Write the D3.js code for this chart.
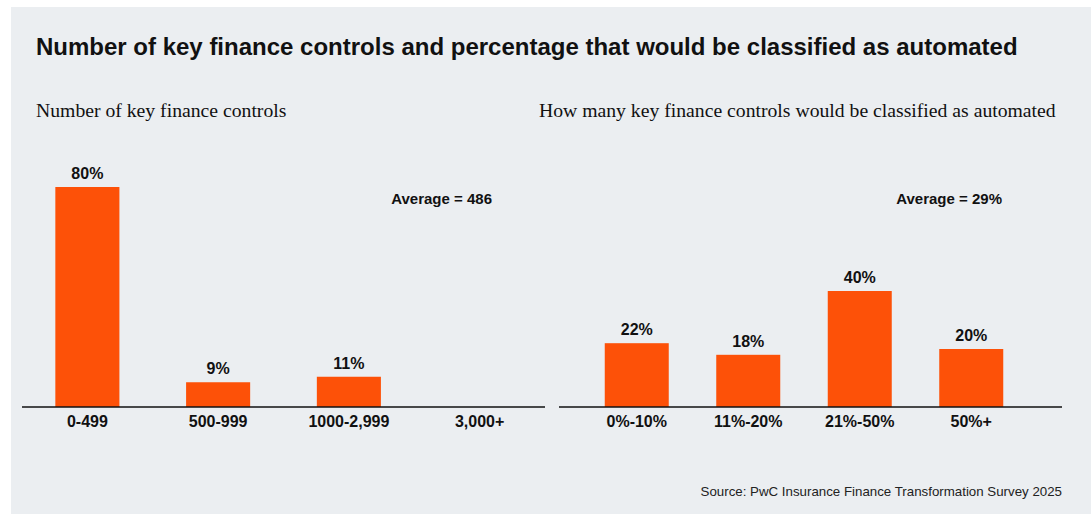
<!DOCTYPE html>
<html>
<head>
<meta charset="utf-8">
<script src="https://cdn.jsdelivr.net/npm/d3@7"></script>
<style>
  body { margin: 0; background: #fff; }
  svg { display: block; }
</style>
</head>
<body>
<div id="chart-area"></div>
<script>
var width = 1091;
var height = 514;

// data
var leftCategories = ["0-499", "500-999", "1000-2,999", "3,000+"];
var leftValues = [80, 9, 11, null];
var rightCategories = ["0%-10%", "11%-20%", "21%-50%", "50%+"];
var rightValues = [22, 18, 40, 20];

var orange = "#fd5108";
var ink = "#111";

var svg = d3.select("#chart-area")
  .append("svg")
  .attr("width", width)
  .attr("height", height);

svg.append("rect")
  .attr("x", 11).attr("y", 7)
  .attr("width", width - 11).attr("height", height - 7)
  .attr("fill", "#ebeef1");

svg.append("text")
  .attr("x", 36).attr("y", 55)
  .attr("font-family", "Liberation Sans, Arial, sans-serif")
  .attr("font-weight", "bold")
  .attr("font-size", "24px")
  .style("fill", ink)
  .text("Number of key finance controls and percentage that would be classified as automated");

var baseY = 407;

function drawPanel(opts) {
  var x = d3.scaleBand()
    .domain(opts.categories)
    .range(opts.range)
    .paddingInner(opts.pad)
    .paddingOuter(opts.pad / 2);

  var y = d3.scaleLinear().domain([0, 100]).range([baseY, baseY - opts.pxPer100]);

  var g = svg.append("g");

  g.append("text")
    .attr("x", opts.subX).attr("y", 117)
    .attr("font-family", "Liberation Serif, Times New Roman, serif")
    .attr("font-size", "19.7px")
    .style("fill", ink)
    .text(opts.subtitle);

  var data = opts.categories.map(function(c, i) { return {cat: c, val: opts.values[i]}; })
    .filter(function(d) { return d.val != null; });

  g.selectAll("rect.bar").data(data).enter().append("rect")
    .attr("class", "bar")
    .attr("x", function(d) { return x(d.cat); })
    .attr("y", function(d) { return y(d.val); })
    .attr("width", x.bandwidth())
    .attr("height", function(d) { return baseY - y(d.val); })
    .attr("fill", orange);

  g.selectAll("text.val").data(data).enter().append("text")
    .attr("class", "val")
    .attr("x", function(d) { return x(d.cat) + x.bandwidth() / 2; })
    .attr("y", function(d) { return y(d.val) - 8; })
    .attr("text-anchor", "middle")
    .attr("font-family", "Liberation Sans, Arial, sans-serif")
    .attr("font-weight", "bold")
    .attr("font-size", "16px")
    .style("fill", ink)
    .text(function(d) { return d.val + "%"; });

  var axis = g.append("g")
    .attr("transform", "translate(0," + baseY + ")")
    .call(d3.axisBottom(x).tickSize(0).tickPadding(9));
  axis.select(".domain")
    .attr("d", "M" + opts.line[0] + ",0H" + opts.line[1])
    .attr("stroke", ink)
    .attr("stroke-width", 1.6);
  axis.selectAll("text")
    .attr("font-family", "Liberation Sans, Arial, sans-serif")
    .attr("font-weight", "bold")
    .attr("font-size", "16px")
    .style("fill", ink);

  g.append("text")
    .attr("x", opts.avgX).attr("y", 204)
    .attr("text-anchor", "end")
    .attr("font-family", "Liberation Sans, Arial, sans-serif")
    .attr("font-weight", "bold")
    .attr("font-size", "15px")
    .style("fill", ink)
    .text(opts.average);
}

drawPanel({
  categories: leftCategories,
  values: leftValues,
  range: [22, 545],
  pad: 0.51,
  line: [22, 545],
  pxPer100: 275,
  subtitle: "Number of key finance controls",
  subX: 36,
  average: "Average = 486",
  avgX: 492
});

drawPanel({
  categories: rightCategories,
  values: rightValues,
  range: [581, 1027],
  pad: 0.426,
  line: [559, 1062],
  pxPer100: 290,
  subtitle: "How many key finance controls would be classified as automated",
  subX: 539,
  average: "Average = 29%",
  avgX: 1002
});

svg.append("text")
  .attr("x", 1062).attr("y", 496)
  .attr("text-anchor", "end")
  .attr("font-family", "Liberation Sans, Arial, sans-serif")
  .attr("font-size", "13.3px")
  .style("fill", "#222")
  .text("Source: PwC Insurance Finance Transformation Survey 2025");
</script>
</body>
</html>
